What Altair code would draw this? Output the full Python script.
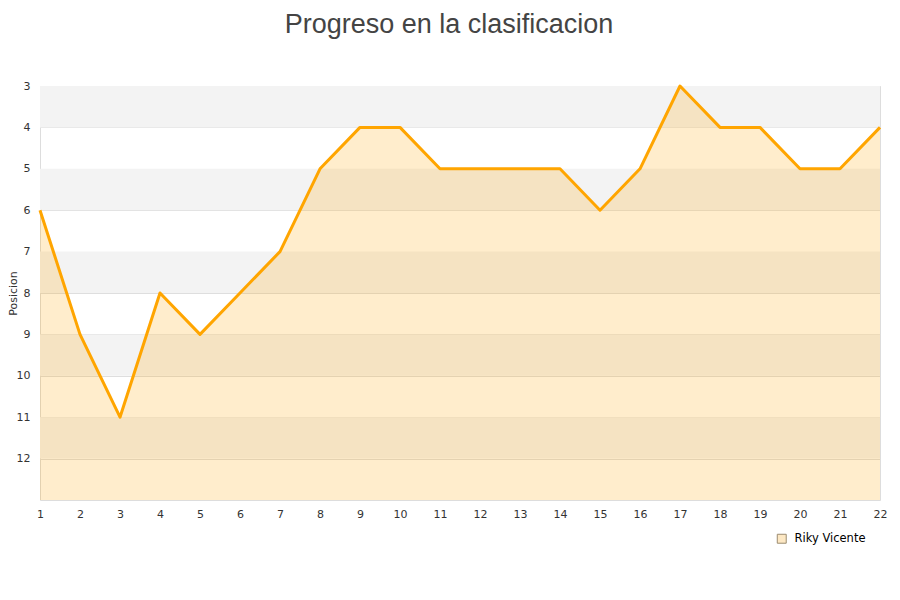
import altair as alt
import pandas as pd

jornadas = list(range(1, 23))
posiciones = [6, 9, 11, 8, 9, 8, 7, 5, 4, 4, 5, 5, 5, 5, 6, 5, 3, 4, 4, 5, 5, 4]
jugador = "Riky Vicente"
y_ticks = [3, 4, 5, 6, 7, 8, 9, 10, 11, 12]
band_start = [3, 5, 7, 9, 11]
band_end = [4, 6, 8, 10, 12]

df = pd.DataFrame({"jornada": jornadas, "posicion": posiciones, "jugador": [jugador] * len(jornadas)})
bands = pd.DataFrame({"y1": band_start, "y2": band_end})

xs = alt.Scale(domain=[1, 22], nice=False, zero=False)
ys = alt.Scale(domain=[3, 13], reverse=True, nice=False, zero=False)

x_axis = alt.Axis(values=jornadas, title=None, grid=False, ticks=False,
                  domain=False, labelFont="DejaVu Sans", labelFontSize=11,
                  labelColor="#333", labelPadding=8, labelFlush=False,
                  labelOverlap=False)
y_axis = alt.Axis(values=y_ticks, title="Posicion", grid=True, gridColor="#dedede",
                  ticks=False, domain=False, labelFont="DejaVu Sans", labelFontSize=11,
                  labelColor="#333", labelPadding=10, labelOverlap=False,
                  titleFont="DejaVu Sans",
                  titleFontSize=11, titleFontWeight="normal", titleColor="#333",
                  titleX=-27, titleY=207, titleAlign="center",
                  titleBaseline="middle", titleAngle=270)

band_layer = alt.Chart(bands).mark_rect(color="#f3f3f3").encode(
    y=alt.Y("y1:Q", scale=ys, axis=y_axis),
    y2="y2:Q",
)

area = alt.Chart(df).mark_area(opacity=0.2, color="#FFA500").encode(
    x=alt.X("jornada:Q", scale=xs, axis=x_axis),
    y=alt.Y("posicion:Q", scale=ys, axis=y_axis),
    y2=alt.datum(13),
)

line = alt.Chart(df).mark_line(color="#FFA500", strokeWidth=3, strokeJoin="round").encode(
    x=alt.X("jornada:Q", scale=xs, axis=x_axis),
    y=alt.Y("posicion:Q", scale=ys, axis=y_axis),
)

legend_layer = alt.Chart(df).transform_filter("datum.jornada < 0").mark_point(
    shape="square", filled=True, opacity=1, stroke="#9c8c70", strokeWidth=1
).encode(
    x=alt.X("jornada:Q", scale=xs, axis=x_axis),
    y=alt.Y("posicion:Q", scale=ys, axis=y_axis),
    fill=alt.Fill("jugador:N", scale=alt.Scale(domain=[jugador], range=["#fde8c4"]),
                  legend=alt.Legend(title=None, orient="none", legendX=736, legendY=447,
                                    symbolType="square", symbolSize=80, labelOffset=7,
                                    symbolStrokeColor="#9c8c70", symbolStrokeWidth=1,
                                    symbolOpacity=1,
                                    labelFont="DejaVu Sans", labelFontSize=11.5,
                                    labelColor="#000")),
)

chart = alt.layer(band_layer, area, line, legend_layer).properties(
    width=840,
    height=414,
    title=alt.TitleParams("Progreso en la clasificacion", font="Liberation Sans", fontSize=27,
                          fontWeight="normal", color="#444", anchor="middle", dx=-11, offset=41),
    padding={"left": 32, "top": 78, "right": 12, "bottom": 92},
    autosize=alt.AutoSizeParams(type="none"),
).configure_view(stroke="#dddddd", strokeWidth=1)

chart.save("out.html", embed_options={"renderer": "svg", "actions": False})
